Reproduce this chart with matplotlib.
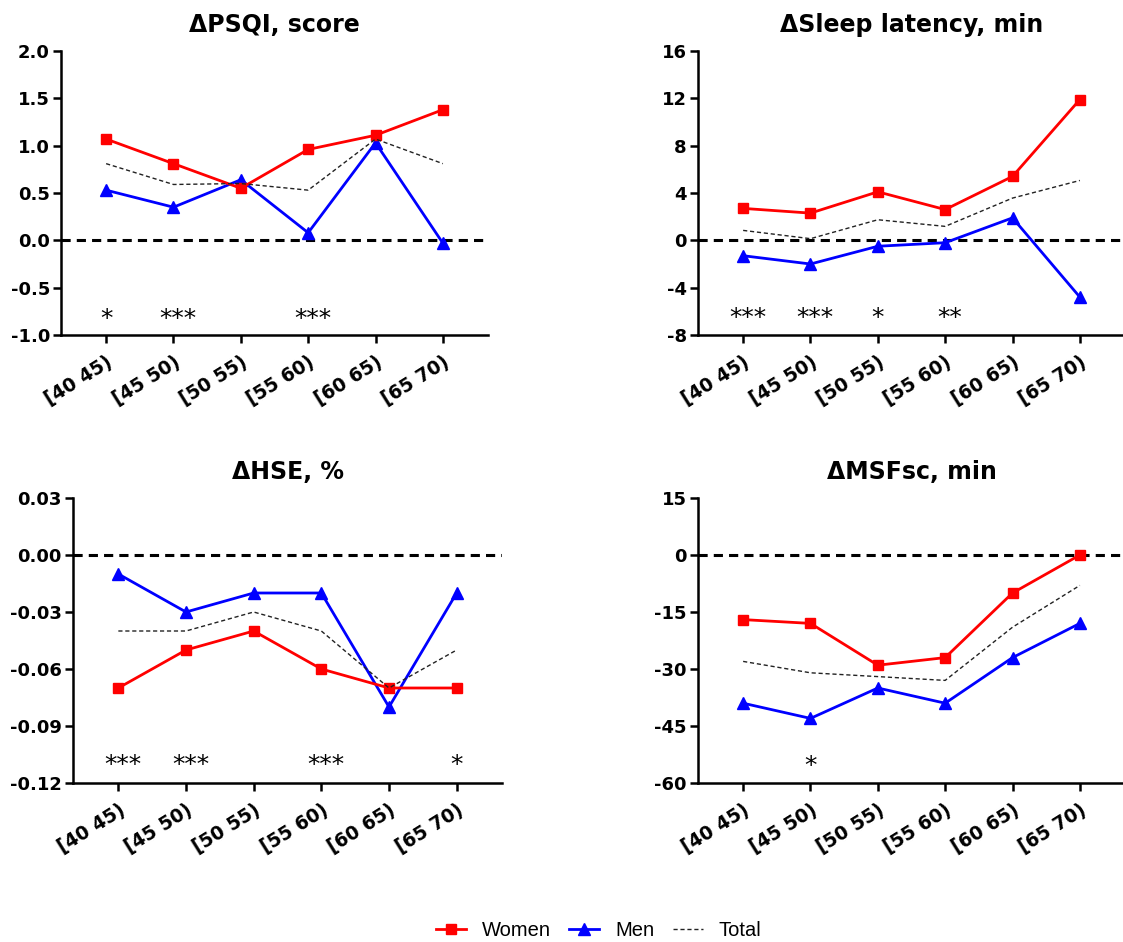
import numpy as np
import matplotlib
matplotlib.use("Agg")
import matplotlib.pyplot as plt
from matplotlib.lines import Line2D

plt.rcParams["axes.unicode_minus"] = False
plt.rcParams["font.family"] = "DejaVu Sans"

# age groups
grupos = ["[40 45)", "[45 50)", "[50 55)", "[55 60)", "[60 65)", "[65 70)"]

# delta PSQI
psqi_women = [1.07, 0.81, 0.55, 0.96, 1.11, 1.38]
psqi_men = [0.53, 0.35, 0.64, 0.08, 1.03, -0.03]
psqi_total = [0.81, 0.59, 0.60, 0.53, 1.07, 0.81]
psqi_stars = ["*", "***", "", "***", "", ""]

# delta sleep latency
lat_women = [2.7, 2.3, 4.1, 2.6, 5.4, 11.9]
lat_men = [-1.3, -2.0, -0.5, -0.2, 1.9, -4.8]
lat_total = [0.84, 0.14, 1.74, 1.18, 3.57, 5.06]
lat_stars = ["***", "***", "*", "**", "", ""]

# delta HSE
hse_women = [-0.07, -0.05, -0.04, -0.06, -0.07, -0.07]
hse_men = [-0.01, -0.03, -0.02, -0.02, -0.08, -0.02]
hse_total = [-0.04, -0.04, -0.03, -0.04, -0.07, -0.05]
hse_stars = ["***", "***", "", "***", "", "*"]

# delta MSFsc
msf_women = [-17, -18, -29, -27, -10, 0]
msf_men = [-39, -43, -35, -39, -27, -18]
msf_total = [-28, -31, -32, -33, -19, -8]
msf_stars = ["", "*", "", "", "", ""]

paneles = [
    ("\u0394PSQI, score", psqi_women, psqi_men, psqi_total, psqi_stars,
     [-1.0, 2.0], [2.0, 1.5, 1.0, 0.5, 0.0, -0.5, -1.0], "%.1f", -0.76),
    ("\u0394Sleep latency, min", lat_women, lat_men, lat_total, lat_stars,
     [-8, 16], [16, 12, 8, 4, 0, -4, -8], "%d", -6.0),
    ("\u0394HSE, %", hse_women, hse_men, hse_total, hse_stars,
     [-0.12, 0.03], [0.03, 0.0, -0.03, -0.06, -0.09, -0.12], "%.2f", -0.107),
    ("\u0394MSFsc, min", msf_women, msf_men, msf_total, msf_stars,
     [-60, 15], [15, 0, -15, -30, -45, -60], "%d", -53.6),
]

posiciones = [
    [61 / 1123, 1 - 335 / 942, 427 / 1123, 284 / 942],
    [698 / 1123, 1 - 335 / 942, 427 / 1123, 284 / 942],
    [73 / 1123, 1 - 783 / 942, 429 / 1123, 285 / 942],
    [698 / 1123, 1 - 783 / 942, 427 / 1123, 285 / 942],
]

fig = plt.figure(figsize=(11.23, 9.42), dpi=100)
x = np.arange(len(grupos))

for i in range(4):
    titulo, w, m, t, stars, ylim, yticks, fmt, ystar = paneles[i]
    ax = fig.add_axes(posiciones[i])
    ax.axhline(0, color="black", lw=2.2, linestyle=(0, (3, 2)), zorder=1)
    ax.plot(x, m, color="blue", lw=2.0, marker="^", markersize=9, zorder=3)
    ax.plot(x, w, color="red", lw=2.0, marker="s", markersize=7.5, zorder=4)
    ax.plot(x, t, color="#222222", lw=1.0, linestyle=(0, (3, 2)), zorder=5)
    for j in range(len(stars)):
        if stars[j] != "":
            off = 0.07 if len(stars[j]) > 1 else 0.0
            ax.annotate(stars[j], (x[j] + off, ystar), xytext=(0, -10),
                        textcoords="offset points", ha="center", va="baseline",
                        fontsize=18)
    ax.set_xlim(-0.67, 5.67)
    ax.set_ylim(ylim)
    ax.set_yticks(yticks)
    ax.set_yticklabels([fmt % v for v in yticks], fontsize=13, fontweight="bold")
    ax.set_xticks(x)
    ax.set_xticklabels(grupos, fontsize=13.5, fontweight="bold", rotation=32,
                       ha="right", rotation_mode="anchor")
    ax.spines["top"].set_visible(False)
    ax.spines["right"].set_visible(False)
    ax.spines["left"].set_linewidth(1.8)
    ax.spines["bottom"].set_linewidth(1.8)
    ax.tick_params(axis="both", width=1.8, length=6, direction="out")
    ax.tick_params(axis="y", pad=2)
    ax.tick_params(axis="x", pad=7)
    ax.set_title(titulo, fontsize=17, fontweight="bold", pad=14)

handles = [
    Line2D([], [], color="red", lw=2.0, marker="s", markersize=7.5),
    Line2D([], [], color="blue", lw=2.0, marker="^", markersize=9),
    Line2D([], [], color="#222222", lw=1.0, linestyle=(0, (3, 2))),
]
fig.legend(handles, ["Women", "Men", "Total"], loc="center",
           bbox_to_anchor=(0.533, 0.012), ncol=3, frameon=False,
           prop={"family": "Liberation Sans", "size": 14.5},
           handlelength=1.5, columnspacing=0.9, handletextpad=0.8)

fig.savefig("out.png", dpi=100)
